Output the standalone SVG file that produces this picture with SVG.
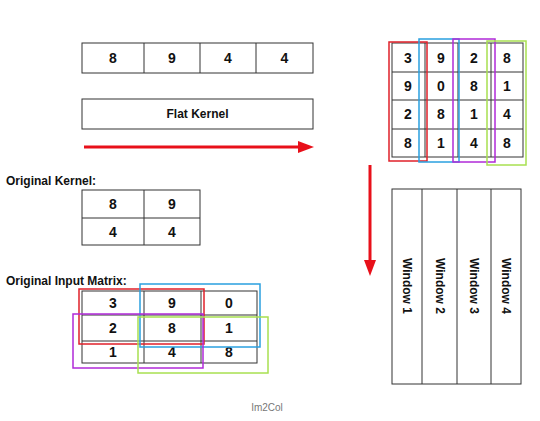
<svg xmlns="http://www.w3.org/2000/svg" width="540" height="421" viewBox="0 0 540 421">
<style>
.cell{fill:#fff;stroke:#333;stroke-width:1}
.line{stroke:#333;stroke-width:1;fill:none}
.num{font-family:"Liberation Sans",Arial,sans-serif;font-size:14px;font-weight:bold;fill:#111;text-anchor:middle;dominant-baseline:central}
.lbl{font-family:"Liberation Sans",Arial,sans-serif;font-size:12px;font-weight:bold;fill:#111}
.win{font-family:"Liberation Sans",Arial,sans-serif;font-size:12px;font-weight:bold;fill:#111;text-anchor:middle;dominant-baseline:central}
.hl{fill:none;stroke-width:1.5}
.arrow{stroke:#e8101a;stroke-width:3;fill:none}
</style>
<rect width="540" height="421" fill="#fff"/>
<g id="flat-row">
<rect class="cell" x="82" y="43" width="231" height="30"/>
<path class="line" d="M144 43V73M200 43V73M256 43V73"/>
<text class="num" x="113" y="58">8</text>
<text class="num" x="172" y="58">9</text>
<text class="num" x="228" y="58">4</text>
<text class="num" x="284.500" y="58">4</text>
</g>
<g id="flat-kernel">
<rect class="cell" x="82" y="99" width="231" height="30"/>
<text class="num" x="197.500" y="114" style="font-size:12px">Flat Kernel</text>
</g>
<g id="original-kernel">
<text class="lbl" x="6" y="185">Original Kernel:</text>
<rect class="cell" x="82" y="190" width="118" height="55"/>
<path class="line" d="M144 190V245M82 218H200"/>
<text class="num" x="113" y="204">8</text>
<text class="num" x="172" y="204">9</text>
<text class="num" x="113" y="232">4</text>
<text class="num" x="172" y="232">4</text>
</g>
<g id="input-matrix">
<text class="lbl" x="6" y="285">Original Input Matrix:</text>
<rect class="cell" x="82" y="291" width="175" height="72"/>
<path class="line" d="M144 291V363M201 291V363M82 315H257M82 341H257"/>
<text class="num" x="113" y="303">3</text>
<text class="num" x="172" y="303">9</text>
<text class="num" x="229" y="303">0</text>
<text class="num" x="113" y="328">2</text>
<text class="num" x="172" y="328">8</text>
<text class="num" x="229" y="328">1</text>
<text class="num" x="113" y="352">1</text>
<text class="num" x="172" y="352">4</text>
<text class="num" x="229" y="352">8</text>
<rect class="hl" x="79" y="289" width="125" height="55" stroke="#e0202a"/>
<rect class="hl" x="140" y="284" width="120" height="63" stroke="#2aa0e0"/>
<rect class="hl" x="73" y="314" width="130" height="54" stroke="#b02ad8"/>
<rect class="hl" x="138" y="317" width="130" height="56" stroke="#a8e050"/>
</g>
<g id="im2col-matrix">
<rect class="cell" x="392" y="43" width="131" height="114"/>
<path class="line" d="M425 43V157M458 43V157M491 43V157M392 72H523M392 100H523M392 129H523"/>
<text class="num" x="408" y="58">3</text>
<text class="num" x="441" y="58">9</text>
<text class="num" x="474" y="58">2</text>
<text class="num" x="507" y="58">8</text>
<text class="num" x="408" y="86">9</text>
<text class="num" x="441" y="86">0</text>
<text class="num" x="474" y="86">8</text>
<text class="num" x="507" y="86">1</text>
<text class="num" x="408" y="114">2</text>
<text class="num" x="441" y="114">8</text>
<text class="num" x="474" y="114">1</text>
<text class="num" x="507" y="114">4</text>
<text class="num" x="408" y="143">8</text>
<text class="num" x="441" y="143">1</text>
<text class="num" x="474" y="143">4</text>
<text class="num" x="507" y="143">8</text>
<rect class="hl" x="389" y="42" width="38" height="119" stroke="#e0202a"/>
<rect class="hl" x="419" y="39" width="40" height="123" stroke="#2aa0e0"/>
<rect class="hl" x="453" y="39" width="42" height="123" stroke="#b02ad8"/>
<rect class="hl" x="487" y="41" width="39" height="124" stroke="#a8e050"/>
</g>
<g id="windows">
<rect class="cell" x="392" y="189" width="129" height="195"/>
<path class="line" d="M422 189V384M457 189V384M491 189V384"/>
<text class="win" transform="translate(407 286) rotate(90)">Window 1</text>
<text class="win" transform="translate(440 286) rotate(90)">Window 2</text>
<text class="win" transform="translate(474 286) rotate(90)">Window 3</text>
<text class="win" transform="translate(506 286) rotate(90)">Window 4</text>
</g>
<g id="connectors">
<path class="arrow" d="M84 147H300"/>
<polygon points="298,141 314,147 298,153" fill="#e8101a"/>
<path class="arrow" d="M370 165V262"/>
<polygon points="364,260 370,276 376,260" fill="#e8101a"/>
</g>
<text x="267" y="411" font-family="'Liberation Sans',Arial,sans-serif" font-size="10" fill="#777" text-anchor="middle">Im2Col</text>
</svg>
